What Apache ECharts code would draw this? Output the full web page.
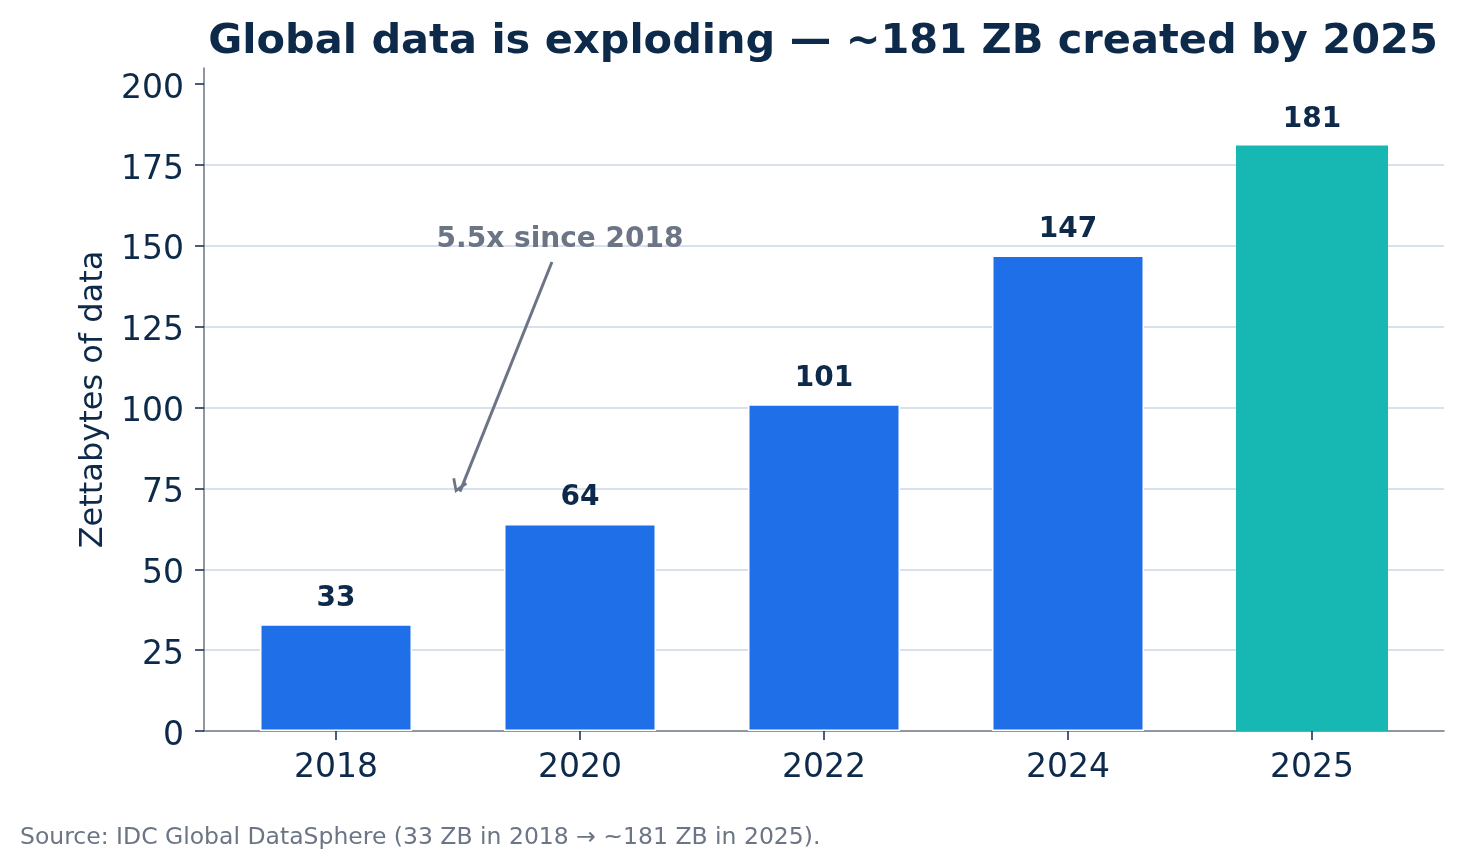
<!DOCTYPE html>
<html>
<head>
<meta charset="utf-8">
<script src="https://cdn.jsdelivr.net/npm/echarts@6/dist/echarts.min.js"></script>
<style>
html,body{margin:0;padding:0;background:#fff;}
#chart{width:1463px;height:868px;}
</style>
</head>
<body>
<div id="chart"></div>
<script>
const years = ['2018', '2020', '2022', '2024', '2025'];
const values = [33, 64, 101, 147, 181];
const yTickValues = [0, 25, 50, 75, 100, 125, 150, 175, 200];
const annotationText = '5.5x since 2018';
const arrowStart = [0.885, 145];
const arrowEnd = [0.508, 74];
const annotationPos = [0.918, 152];
const titleText = 'Global data is exploding — ~181 ZB created by 2025';
const sourceText = 'Source: IDC Global DataSphere (33 ZB in 2018 → ~181 ZB in 2025).';

const NAVY = '#0d2a4a';
const GRAY = '#6b7585';
const BLUE = '#1f6fe8';
const TEAL = '#17b8b3';
const FONT = '"DejaVu Sans", sans-serif';

const lastIdx = values.length - 1;
const barData = values.map((v, i) => ({
  value: [i, v],
  itemStyle: i === lastIdx
    ? {color: TEAL, borderColor: TEAL, borderWidth: 1.5}
    : {color: BLUE, borderColor: '#ffffff', borderWidth: 1.5}
}));

const chart = echarts.init(document.getElementById('chart'), null, {renderer: 'canvas'});
const option = {
  backgroundColor: '#ffffff',
  animation: false,
  title: [
    {
      text: titleText,
      left: 818, textAlign: 'center', top: 16,
      textStyle: {fontFamily: FONT, fontSize: 41.5, fontWeight: 'bold', color: NAVY}
    },
    {
      text: sourceText,
      left: 15, top: 821,
      textStyle: {fontFamily: FONT, fontSize: 23.5, fontWeight: 'normal', color: GRAY}
    }
  ],
  grid: {left: 204, right: 19, top: 68, bottom: 137, containLabel: false},
  xAxis: {
    type: 'value',
    min: -0.541, max: 4.541,
    axisLine: {show: true, onZero: false, lineStyle: {color: GRAY, width: 1.5}},
    axisTick: {show: true, customValues: years.map((_, i) => i), length: 9, lineStyle: {color: NAVY, width: 1.5}},
    axisLabel: {
      customValues: years.map((_, i) => i),
      formatter: v => years[Math.round(v)],
      fontFamily: FONT, fontSize: 33, color: NAVY, margin: 21
    },
    splitLine: {show: false}
  },
  yAxis: {
    type: 'value',
    min: 0, max: 205, interval: 25,
    name: 'Zettabytes of data',
    nameLocation: 'middle',
    nameGap: 94,
    nameTextStyle: {fontFamily: FONT, fontSize: 32, color: NAVY},
    axisLine: {show: true, onZero: false, lineStyle: {color: GRAY, width: 1.5}},
    axisTick: {show: true, customValues: yTickValues, length: 9, lineStyle: {color: NAVY, width: 1.5}},
    axisLabel: {
      customValues: yTickValues, fontFamily: FONT, fontSize: 33, color: NAVY, margin: 20,
      verticalAlign: 'top', lineHeight: 10
    },
    splitLine: {show: true, showMaxLine: false, showMinLine: false, lineStyle: {color: '#d9e2ec', width: 2}}
  },
  series: [
    {
      type: 'bar',
      barWidth: 152,
      data: barData,
      label: {
        show: true, position: 'top', distance: 12,
        formatter: p => String(p.value[1]),
        fontFamily: FONT, fontSize: 28, fontWeight: 'bold', color: NAVY
      },
      markLine: {
        silent: true,
        symbol: ['none', 'path://M10,0 L20,16 L17,18 L10,6.5 L3,18 L0,16 Z'],
        symbolSize: [16, 14],
        symbolOffset: [0, 4],
        label: {show: false},
        lineStyle: {color: GRAY, width: 3, type: 'solid'},
        data: [[{coord: arrowStart}, {coord: arrowEnd}]]
      },
      markPoint: {
        silent: true,
        symbol: 'circle', symbolSize: 0,
        label: {
          show: true, position: 'inside', formatter: annotationText,
          fontFamily: FONT, fontSize: 28, fontWeight: 'bold', color: GRAY
        },
        data: [{coord: annotationPos}]
      }
    }
  ]
};
chart.setOption(option);
</script>
</body>
</html>
